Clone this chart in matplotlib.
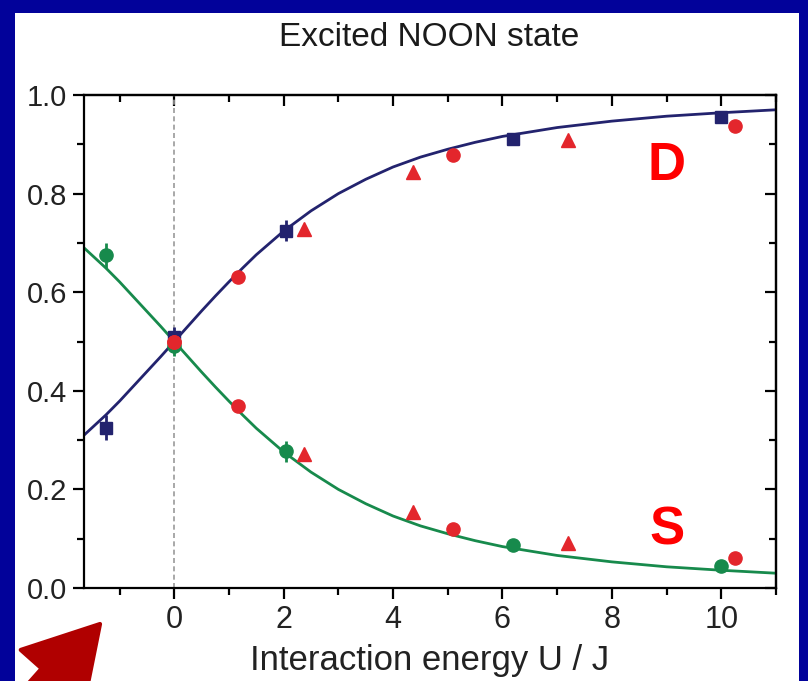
import matplotlib
matplotlib.use("Agg")
from matplotlib import pyplot as plt
from matplotlib import patches, transforms
from matplotlib.ticker import MultipleLocator, FormatStrFormatter

# measured points (D = upper branch, S = lower branch)
blue_x = [-1.25, 0.0, 2.05, 6.2, 10.0]
blue_y = [0.325, 0.51, 0.725, 0.91, 0.955]
blue_err = [0.025, 0.02, 0.022, 0.01, 0.01]

green_x = [-1.25, 0.0, 2.05, 6.2, 10.0]
green_y = [0.675, 0.49, 0.277, 0.088, 0.045]
green_err = [0.025, 0.02, 0.022, 0.01, 0.01]

red_circ_x = [0.0, 1.17, 5.1, 10.25]
red_circ_d = [0.50, 0.63, 0.878, 0.937]
red_circ_s = [0.50, 0.37, 0.12, 0.061]

red_tri_x = [2.37, 4.37, 7.2]
red_tri_d = [0.728, 0.844, 0.909]
red_tri_s = [0.272, 0.154, 0.091]

# theory curves
curve_x = [-1.65, -1.25, -1.0, -0.75, -0.5, -0.25, 0.0, 0.25, 0.5, 0.75, 1.0,
           1.25, 1.5, 1.75, 2.0, 2.5, 3.0, 3.5, 4.0, 4.5, 5.0, 5.5, 6.0, 7.0,
           8.0, 9.0, 10.0, 11.0]
curve_d = [0.31, 0.351, 0.379, 0.409, 0.439, 0.469, 0.50, 0.531, 0.562, 0.592,
           0.621, 0.649, 0.676, 0.700, 0.724, 0.765, 0.800, 0.829, 0.854,
           0.874, 0.890, 0.904, 0.916, 0.934, 0.947, 0.957, 0.964, 0.970]
curve_s = [1 - v for v in curve_d]

navy = '#23236e'
green = '#178a4c'
red = '#e3262c'

plt.rcParams['font.family'] = ['Liberation Sans', 'DejaVu Sans']

fig = plt.figure(figsize=(8.08, 6.81), dpi=100, facecolor='#02029a')
fig.patches.append(patches.Rectangle((15 / 808, 0), 784 / 808, 1 - 13 / 681,
                                     transform=fig.transFigure,
                                     facecolor='white', edgecolor='none', zorder=-5))

ax = fig.add_axes([84 / 808, 1 - 588 / 681, 692 / 808, 493 / 681])
ax.set_xlim(-1.65, 11)
ax.set_ylim(0, 1)

ax.axvline(0, color='#999999', lw=1.2, ls=(0, (3, 2)), zorder=1)

ax.plot(curve_x, curve_d, color=navy, lw=2, zorder=2, solid_joinstyle='round')
ax.plot(curve_x, curve_s, color=green, lw=2, zorder=2, solid_joinstyle='round')

ax.errorbar(blue_x, blue_y, yerr=blue_err, fmt='s', color=navy, ms=9,
            elinewidth=2, capsize=0, zorder=3)
ax.errorbar(green_x, green_y, yerr=green_err, fmt='o', color=green, ms=9.5,
            elinewidth=2, capsize=0, zorder=3)
ax.plot(red_circ_x, red_circ_d, 'o', color=red, ms=9.5, zorder=4)
ax.plot(red_circ_x, red_circ_s, 'o', color=red, ms=9.5, zorder=4)
ax.plot(red_tri_x, red_tri_d, '^', color=red, ms=10.5, zorder=4)
ax.plot(red_tri_x, red_tri_s, '^', color=red, ms=10.5, zorder=4)

ax.text(9.0, 0.856, 'D', color='red', fontsize=38, fontweight='bold',
        ha='center', va='center')
ax.text(9.0, 0.116, 'S', color='red', fontsize=38, fontweight='bold',
        ha='center', va='center')

ax.xaxis.set_major_locator(MultipleLocator(2))
ax.xaxis.set_minor_locator(MultipleLocator(1))
ax.yaxis.set_major_locator(MultipleLocator(0.2))
ax.yaxis.set_minor_locator(MultipleLocator(0.1))
ax.yaxis.set_major_formatter(FormatStrFormatter('%.1f'))

for s in ax.spines.values():
    s.set_linewidth(1.6)
ax.tick_params(which='both', direction='out', width=1.6, labelsize=21,
               top=False, right=False, labelcolor='#222222')
ax.tick_params(which='major', length=8)
ax.tick_params(which='minor', length=5)
ax.tick_params(axis='x', which='major', pad=4, labelsize=22)
ax.tick_params(axis='y', which='major', pad=4)

# mirrored inward ticks on top / right
top = ax.secondary_xaxis('top')
top.xaxis.set_major_locator(MultipleLocator(2))
top.xaxis.set_minor_locator(MultipleLocator(1))
top.tick_params(which='both', direction='in', width=1.6, labeltop=False)
top.tick_params(which='major', length=8)
top.tick_params(which='minor', length=5)
right = ax.secondary_yaxis('right')
right.yaxis.set_major_locator(MultipleLocator(0.2))
right.yaxis.set_minor_locator(MultipleLocator(0.1))
right.tick_params(which='both', direction='in', width=1.6, labelright=False)
right.tick_params(which='major', length=8)
right.tick_params(which='minor', length=5)
for sec in (top, right):
    for s in sec.spines.values():
        s.set_linewidth(1.6)

ax.set_xlabel('Interaction energy U / J', fontsize=25, labelpad=7,
              color='#222222')
fig.text(429 / 808, 1 - 37 / 681, 'Excited NOON state', fontsize=24,
         ha='center', va='center', color='#1a1a1a')

# red pointer arrow in the lower-left corner (pixel units, y up)
px = transforms.Affine2D().scale(1 / 808, 1 / 681) + fig.transFigure
arrow = patches.FancyArrow(-20, -78, 120, 135, width=28, head_width=84,
                           head_length=72, length_includes_head=True,
                           facecolor='#b00000', edgecolor='#b00000', lw=3,
                           joinstyle='round', transform=px, zorder=5)
fig.patches.append(arrow)

fig.savefig('out.png', dpi=100, facecolor=fig.get_facecolor())
